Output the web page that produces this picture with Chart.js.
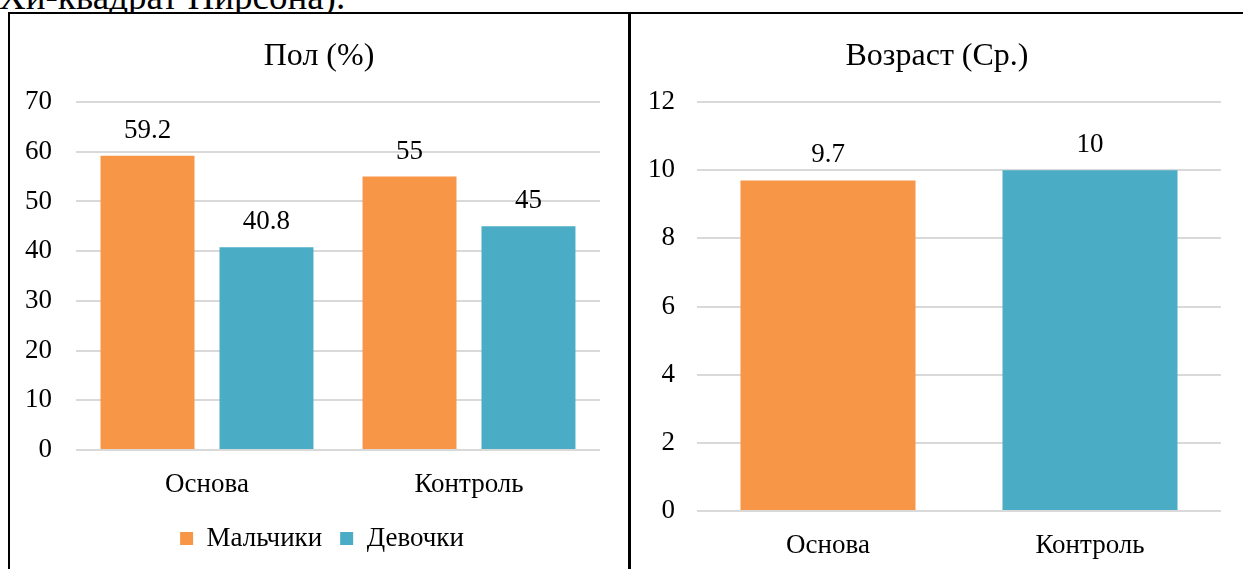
<!DOCTYPE html>
<html lang="ru">
<head>
<meta charset="UTF-8">
<title>Пол и возраст</title>
<script src="https://cdn.jsdelivr.net/npm/chart.js"></script>
<style>
  body {
    margin: 0;
    background: #fff;
    width: 1243px;
    height: 569px;
    overflow: hidden;
    position: relative;
    font-family: 'Liberation Serif', 'Times New Roman', serif;
  }
  .caption {
    position: absolute;
    left: -1px;
    top: -22px;
    font-size: 37px;
    line-height: 37px;
    white-space: nowrap;
    color: #000;
  }
  .panel {
    position: absolute;
    top: 12px;
    height: 555px;
    border-top: 2px solid #000;
    background: #fff;
  }
  #genderPanel { left: 8px; width: 618px; border-left: 2px solid #000; }
  #agePanel { left: 628px; width: 612px; border-left: 3px solid #000; }
  canvas { display: block; }
</style>
</head>
<body>
<div class="caption">Хи-квадрат Пирсона).</div>
<div class="panel" id="genderPanel"><canvas id="genderChart" width="618" height="555"></canvas></div>
<div class="panel" id="agePanel"><canvas id="ageChart" width="612" height="555"></canvas></div>

<script>
  // groups and values
  const groups = ['Основа', 'Контроль'];
  const boysPct = [59.2, 55];
  const girlsPct = [40.8, 45];
  const meanAge = [9.7, 10];

  const ORANGE = '#F79646';
  const TEAL = '#4BACC6';
  const FONT = "'Liberation Serif', 'Times New Roman', serif";
  const TXT = 27;

  Chart.defaults.font.family = FONT;
  Chart.defaults.color = '#000';

  // numbers above each bar
  const valueLabels = {
    id: 'valueLabels',
    afterDatasetsDraw(chart) {
      const ctx = chart.ctx;
      ctx.save();
      ctx.font = TXT + 'px ' + FONT;
      ctx.fillStyle = '#000';
      ctx.textAlign = 'center';
      ctx.textBaseline = 'middle';
      chart.data.datasets.forEach((ds, i) => {
        chart.getDatasetMeta(i).data.forEach((bar, j) => {
          ctx.fillText(String(ds.data[j]), bar.x, bar.y - 25);
        });
      });
      ctx.restore();
    }
  };

  // title and legend centred on the whole canvas, not just the plot width
  const centerBlocks = {
    id: 'centerBlocks',
    afterLayout(chart) {
      const t = chart.titleBlock;
      if (t) { t.left = 0; t.right = chart.width; }
      const lg = chart.legend;
      if (lg && lg.options.display) {
        lg.left = lg.options.labels.padding - 6;
        lg.right = chart.width - 6;
      }
    }
  };

  function titleOpts(text) {
    return {
      display: true,
      text: text,
      font: { size: 32, weight: 'normal' },
      color: '#000',
      padding: { top: 23, bottom: 26.6 }
    };
  }

  function yAxis(max, step, pad) {
    return {
      min: 0,
      max: max,
      ticks: { stepSize: step, padding: pad, font: { size: TXT }, color: '#000' },
      grid: { color: '#d9d9d9', lineWidth: 2, drawTicks: false },
      border: { display: false },
      afterFit: axis => { axis.width = 66; }
    };
  }

  function xAxis(h) {
    return {
      ticks: { padding: 19, font: { size: TXT }, color: '#000' },
      grid: { display: false, drawTicks: false },
      border: { display: false },
      afterFit: axis => { axis.height = h; }
    };
  }

  new Chart(document.getElementById('genderChart'), {
    type: 'bar',
    data: {
      labels: groups,
      datasets: [
        { label: 'Мальчики', data: boysPct, backgroundColor: ORANGE },
        { label: 'Девочки', data: girlsPct, backgroundColor: TEAL }
      ]
    },
    options: {
      responsive: false,
      animation: false,
      categoryPercentage: 0.908,
      barPercentage: 0.79,
      layout: { padding: { left: 0, right: 28, top: 0, bottom: 7 } },
      scales: { x: xAxis(57), y: yAxis(70, 10, 24) },
      plugins: {
        title: titleOpts('Пол (%)'),
        legend: {
          position: 'bottom',
          labels: {
            boxWidth: 13,
            boxHeight: 13,
            padding: 18,
            color: '#000',
            font: { size: TXT }
          }
        },
        tooltip: { enabled: false }
      }
    },
    plugins: [valueLabels, centerBlocks]
  });

  new Chart(document.getElementById('ageChart'), {
    type: 'bar',
    data: {
      labels: groups,
      datasets: [
        { label: 'Возраст', data: meanAge, backgroundColor: [ORANGE, TEAL] }
      ]
    },
    options: {
      responsive: false,
      animation: false,
      categoryPercentage: 1,
      barPercentage: 0.668,
      layout: { padding: { left: 0, right: 22, top: 0, bottom: 0 } },
      scales: { x: xAxis(58), y: yAxis(12, 2, 22) },
      plugins: {
        title: titleOpts('Возраст (Ср.)'),
        legend: { display: false },
        tooltip: { enabled: false }
      }
    },
    plugins: [valueLabels, centerBlocks]
  });
</script>
</body>
</html>
